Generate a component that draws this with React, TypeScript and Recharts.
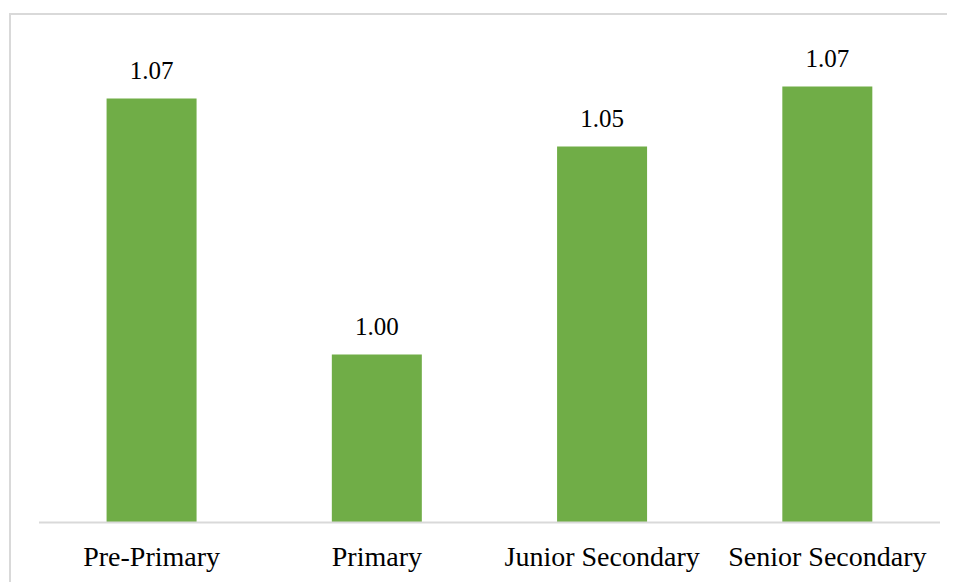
import React from "react";
import { BarChart, Bar, XAxis, YAxis, LabelList } from "recharts";

const categories = ["Pre-Primary", "Primary", "Junior Secondary", "Senior Secondary"];
const values = [1.066, 1.002, 1.054, 1.069];
const yDomain: [number, number] = [0.96, 1.085];

const data = categories.map((name, i) => ({ name, value: values[i] }));

const FONT = "Liberation Serif";

export default function App() {
  return (
    <div style={{ position: "relative", width: 947, height: 574, background: "#fff", fontFamily: FONT }}>
      <style>{`.recharts-wrapper text { font-family: "Liberation Serif", "DejaVu Serif", serif !important; }`}</style>
      <div
        style={{
          position: "absolute",
          left: 1,
          top: 5,
          width: 960,
          height: 600,
          borderLeft: "2px solid #d9d9d9",
          borderTop: "2px solid #d9d9d9",
          boxSizing: "border-box",
        }}
      />
      <div style={{ position: "absolute", left: 0, top: 0 }}>
        <BarChart
          width={947}
          height={574}
          data={data}
          margin={{ top: 14.5, right: 15, left: 31, bottom: 0 }}
          barCategoryGap="30%"
          style={{ fontFamily: FONT }}
        >
          <XAxis
            dataKey="name"
            height={59.5}
            axisLine={{ stroke: "#d9d9d9", strokeWidth: 2 }}
            tickLine={false}
            tickSize={0}
            tickMargin={24}
            interval={0}
            tick={{ fill: "#000", fontFamily: FONT, fontSize: 28 }}
          />
          <YAxis hide domain={yDomain} allowDataOverflow />
          <Bar dataKey="value" fill="#70ad47" isAnimationActive={false}>
            <LabelList
              dataKey="value"
              position="top"
              offset={20}
              formatter={(v: any) => Number(v).toFixed(2)}
              fill="#000"
              fontFamily={FONT}
              fontSize={25}
            />
          </Bar>
        </BarChart>
      </div>
    </div>
  );
}
